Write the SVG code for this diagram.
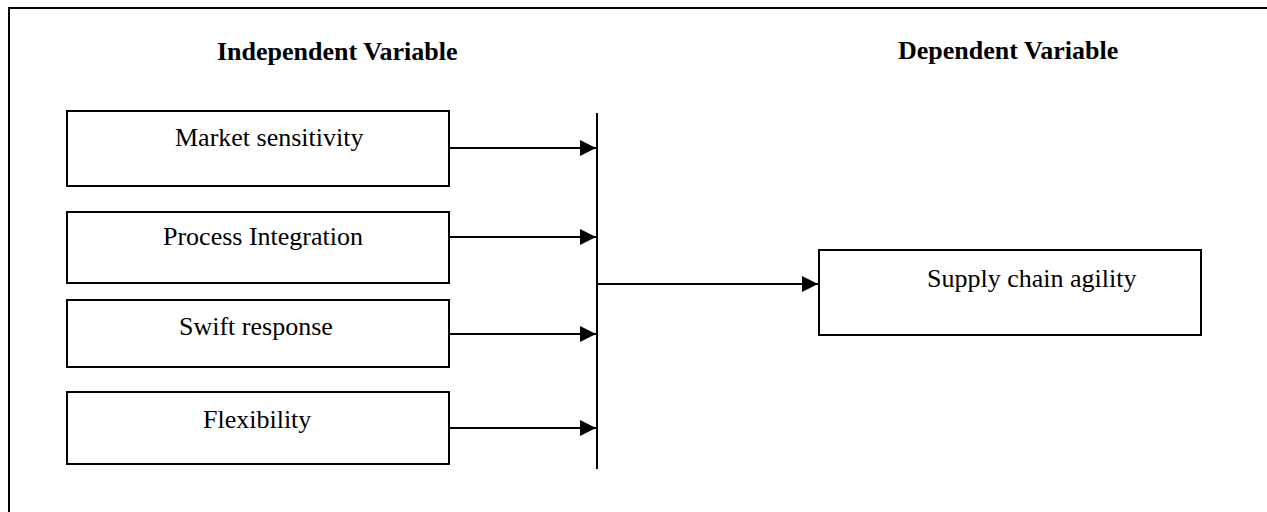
<svg xmlns="http://www.w3.org/2000/svg" width="1267" height="512" viewBox="0 0 1267 512">
<style>
.box{fill:#fff;stroke:#000;stroke-width:2}
.t{font-family:"Liberation Serif","Times New Roman",serif;font-size:26px;fill:#000}
.h{font-family:"Liberation Serif","Times New Roman",serif;font-size:26px;font-weight:bold;fill:#000}
.ln{stroke:#000;stroke-width:2;fill:none}
</style>
<defs>
<marker id="ah" markerUnits="userSpaceOnUse" markerWidth="16" markerHeight="16" viewBox="0 0 16 16" refX="16" refY="8" orient="auto">
<path d="M0,0 L16,8 L0,16 Z" fill="#000"/>
</marker>
</defs>
<rect width="1267" height="512" fill="#fff"/>
<g id="frame"><path class="ln" d="M9,512 V8 H1267"/></g>
<g id="headings">
<text class="h" x="217" y="60">Independent Variable</text>
<text class="h" x="898" y="59">Dependent Variable</text>
</g>
<g id="n1"><rect class="box" x="67" y="111" width="382" height="75"/><text class="t" x="175" y="146">Market sensitivity</text></g>
<g id="n2"><rect class="box" x="67" y="212" width="382" height="71"/><text class="t" x="163" y="245">Process Integration</text></g>
<g id="n3"><rect class="box" x="67" y="300" width="382" height="67"/><text class="t" x="179" y="335">Swift response</text></g>
<g id="n4"><rect class="box" x="67" y="392" width="382" height="72"/><text class="t" x="203" y="428">Flexibility</text></g>
<g id="n5"><rect class="box" x="819" y="250" width="382" height="85"/><text class="t" x="927" y="287">Supply chain agility</text></g>
<g id="connectors">
<path class="ln" d="M597,113 V469"/>
<path class="ln" d="M449,148 H596" marker-end="url(#ah)"/>
<path class="ln" d="M449,237 H596" marker-end="url(#ah)"/>
<path class="ln" d="M449,334 H596" marker-end="url(#ah)"/>
<path class="ln" d="M449,428 H596" marker-end="url(#ah)"/>
<path class="ln" d="M597,284 H818" marker-end="url(#ah)"/>
</g>
</svg>
